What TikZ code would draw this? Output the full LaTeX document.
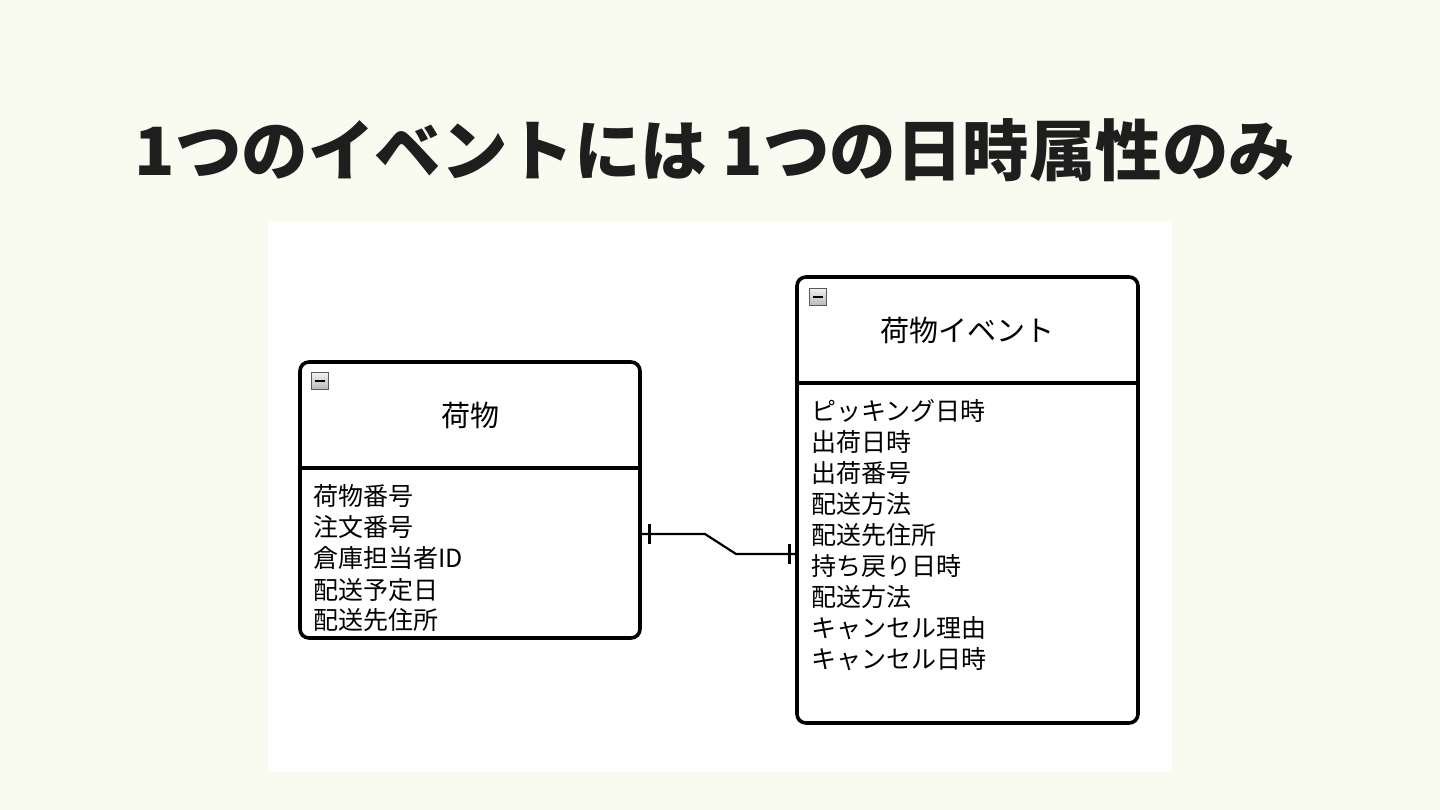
\documentclass[tikz,border=0pt]{standalone}
\usepackage{fontspec}
\newfontfamily\cjk{Noto Sans CJK JP}
\usetikzlibrary{calc}
\definecolor{bgc}{HTML}{F9FBF1}
\definecolor{ttl}{HTML}{1E1E1E}
\tikzset{
  entity/.style={draw=black, line width=3.6pt, rounded corners=9pt, fill=white},
  divider/.style={draw=black, line width=3.6pt},
  attr/.style={anchor=west, inner sep=0pt, font=\cjk\fontsize{25}{27}\selectfont},
  etitle/.style={inner sep=0pt, font=\cjk\fontsize{29}{31}\selectfont},
  icon/.style={draw=gray!70!black, line width=0.9pt, top color=gray!12, bottom color=gray!55, minimum size=17pt, inner sep=0pt},
  rel/.style={draw=black, line width=2.2pt},
}
\begin{document}
\begin{tikzpicture}[x=1pt,y=-1pt]
\useasboundingbox (0,0) rectangle (1440,810);
\fill[bgc] (0,0) rectangle (1440,810);
\fill[white] (268,222) rectangle (1172,772);
\node[inner sep=0pt, text=ttl, font=\cjk\bfseries\fontsize{66.5}{70}\selectfont] (title) at (715,150) {1つのイベントには 1つの日時属性のみ};
% left entity
\draw[entity] (300,362) rectangle (640,638);
\draw[divider] (300,468) -- (640,468);
\node[icon] (li) at (320,381) {};
\draw[line width=2.4pt] ($(li)+(-5,0)$) -- ($(li)+(5,0)$);
\node[etitle] (lt) at (470,415) {荷物};
\node[attr] (la1) at (313,496) {荷物番号};
\node[attr] (la2) at (313,527) {注文番号};
\node[attr] (la3) at (313,558) {倉庫担当者ID};
\node[attr] (la4) at (313,590) {配送予定日};
\node[attr] (la5) at (313,620) {配送先住所};
% right entity
\draw[entity] (797,277) rectangle (1138,723);
\draw[divider] (797,383) -- (1138,383);
\node[icon] (ri) at (818,297) {};
\draw[line width=2.4pt] ($(ri)+(-5,0)$) -- ($(ri)+(5,0)$);
\node[etitle] (rt) at (967,330) {荷物イベント};
\node[attr] (ra1) at (811,411) {ピッキング日時};
\node[attr] (ra2) at (811,442) {出荷日時};
\node[attr] (ra3) at (811,473) {出荷番号};
\node[attr] (ra4) at (811,504) {配送方法};
\node[attr] (ra5) at (811,535) {配送先住所};
\node[attr] (ra6) at (811,566) {持ち戻り日時};
\node[attr] (ra7) at (811,597) {配送方法};
\node[attr] (ra8) at (811,628) {キャンセル理由};
\node[attr] (ra9) at (811,659) {キャンセル日時};
% relation
\coordinate (ra) at (641.5,534);
\coordinate (rb) at (795.5,554);
\draw[rel] (ra) -- (705,534) -- (736,554) -- (rb);
\draw[rel] ($(ra)+(8,-10)$) -- ($(ra)+(8,10)$);
\draw[rel] ($(rb)+(-6,-10)$) -- ($(rb)+(-6,10)$);
\end{tikzpicture}
\end{document}
